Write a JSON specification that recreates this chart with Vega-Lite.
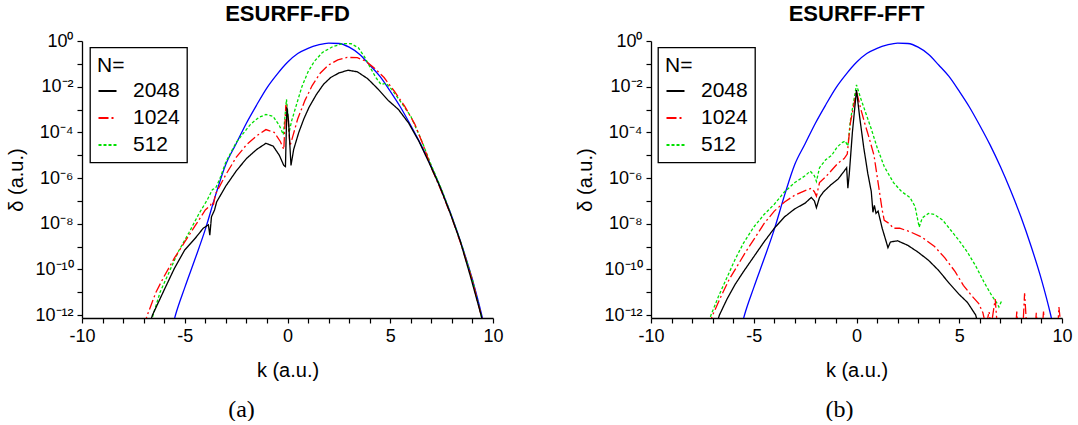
{
  "$schema": "https://vega.github.io/schema/vega-lite/v6.json",
  "padding": {"left": 6, "top": 3, "right": 0, "bottom": 0},
  "bounds": "flush",
  "spacing": 158,
  "config": {
    "font": "Liberation Sans",
    "view": {"stroke": null},
    "axis": {"grid": false, "domainColor": "black", "domainWidth": 1.3, "tickColor": "black", "tickWidth": 1.2, "tickSize": 5, "labelColor": "black", "labelFontSize": 18, "titleColor": "black", "titleFontSize": 20, "titleFontWeight": "normal", "labelFlush": false, "labelOverlap": false, "labelPadding": 4},
    "legend": {"strokeColor": "black", "strokeWidth": 1.3},
    "title": {"fontSize": 22, "fontWeight": "bold", "color": "black", "anchor": "middle", "frame": "group", "baseline": "alphabetic", "offset": 6}
  },
  "datasets": {
    "exact": [{"k":-5.6,"d":3.16e-13},{"k":-5.45,"d":1e-12},{"k":-5.0,"d":1.58e-11},{"k":-4.5,"d":2.82e-10},{"k":-4.0,"d":5.62e-9},{"k":-3.5,"d":1.78e-7},{"k":-3.0,"d":3.98e-6},{"k":-2.5,"d":3.16e-5},{"k":-2.0,"d":2.51e-4},{"k":-1.5,"d":1.58e-3},{"k":-1.0,"d":8.91e-3},{"k":-0.5,"d":3.55e-2},{"k":0,"d":0.117},{"k":0.5,"d":0.282},{"k":1.0,"d":0.479},{"k":1.5,"d":0.676},{"k":2.0,"d":0.813},{"k":2.5,"d":0.776},{"k":3.0,"d":0.537},{"k":3.5,"d":0.263},{"k":4.0,"d":8.91e-2},{"k":4.5,"d":2.82e-2},{"k":5.0,"d":6.31e-3},{"k":5.5,"d":1.26e-3},{"k":6.0,"d":2.0e-4},{"k":6.5,"d":2.82e-5},{"k":7.0,"d":3.16e-6},{"k":7.5,"d":2.82e-7},{"k":8.0,"d":2.0e-8},{"k":8.5,"d":1e-9},{"k":9.0,"d":3.55e-11},{"k":9.45,"d":1e-12},{"k":9.6,"d":2.51e-13}],
    "fd": [
      {"N":"512","k":-6.7,"d":3.16e-13},{"N":"512","k":-6.54,"d":1e-12},{"N":"512","k":-6.2,"d":1e-11},{"N":"512","k":-5.8,"d":6.31e-11},{"N":"512","k":-5.3,"d":6.31e-10},{"N":"512","k":-4.8,"d":3.98e-9},{"N":"512","k":-4.3,"d":2.82e-8},{"N":"512","k":-3.9,"d":1.12e-7},{"N":"512","k":-3.65,"d":3.16e-7},{"N":"512","k":-3.5,"d":3.55e-7},{"N":"512","k":-3.3,"d":8.91e-7},{"N":"512","k":-3.0,"d":5.01e-6},{"N":"512","k":-2.5,"d":3.55e-5},{"N":"512","k":-2.2,"d":7.94e-5},{"N":"512","k":-1.8,"d":2.24e-4},{"N":"512","k":-1.4,"d":4.47e-4},{"N":"512","k":-1.05,"d":6.03e-4},{"N":"512","k":-0.7,"d":5.01e-4},{"N":"512","k":-0.4,"d":2.0e-4},{"N":"512","k":-0.2,"d":7.94e-5},{"N":"512","k":-0.05,"d":2.82e-3},{"N":"512","k":0.02,"d":6.31e-4},{"N":"512","k":0.08,"d":1e-4},{"N":"512","k":0.2,"d":3.16e-4},{"N":"512","k":0.4,"d":1.26e-3},{"N":"512","k":0.7,"d":1e-2},{"N":"512","k":1.0,"d":4.47e-2},{"N":"512","k":1.3,"d":0.126},{"N":"512","k":1.7,"d":0.316},{"N":"512","k":2.2,"d":0.562},{"N":"512","k":2.7,"d":0.776},{"N":"512","k":3.1,"d":0.759},{"N":"512","k":3.45,"d":0.501},{"N":"512","k":3.75,"d":0.2},{"N":"512","k":4.05,"d":6.31e-2},{"N":"512","k":4.3,"d":2.51e-2},{"N":"512","k":4.55,"d":1.26e-2},{"N":"512","k":4.8,"d":1.41e-2},{"N":"512","k":5.1,"d":7.08e-3},{"N":"512","k":5.5,"d":2.24e-3},{"N":"512","k":6.0,"d":5.01e-4},{"N":"512","k":6.5,"d":5.01e-5},{"N":"512","k":7.0,"d":3.55e-6},{"N":"512","k":7.5,"d":3.16e-7},{"N":"512","k":8.0,"d":2.0e-8},{"N":"512","k":8.5,"d":1e-9},{"N":"512","k":9.0,"d":3.55e-11},{"N":"512","k":9.42,"d":1e-12},{"N":"512","k":9.55,"d":3.16e-13},
      {"N":"1024","k":-7.0,"d":3.16e-13},{"N":"1024","k":-6.82,"d":1e-12},{"N":"1024","k":-6.4,"d":1e-11},{"N":"1024","k":-6.0,"d":5.01e-11},{"N":"1024","k":-5.5,"d":3.16e-10},{"N":"1024","k":-5.0,"d":1.58e-9},{"N":"1024","k":-4.5,"d":7.94e-9},{"N":"1024","k":-4.0,"d":3.98e-8},{"N":"1024","k":-3.75,"d":6.31e-8},{"N":"1024","k":-3.68,"d":8.91e-8},{"N":"1024","k":-3.6,"d":7.08e-8},{"N":"1024","k":-3.5,"d":2.0e-7},{"N":"1024","k":-3.0,"d":1.41e-6},{"N":"1024","k":-2.5,"d":7.94e-6},{"N":"1024","k":-2.0,"d":2.82e-5},{"N":"1024","k":-1.5,"d":7.08e-5},{"N":"1024","k":-1.05,"d":1.32e-4},{"N":"1024","k":-0.65,"d":1e-4},{"N":"1024","k":-0.35,"d":3.98e-5},{"N":"1024","k":-0.18,"d":1.78e-5},{"N":"1024","k":-0.08,"d":1.58e-3},{"N":"1024","k":0.02,"d":5.01e-4},{"N":"1024","k":0.12,"d":2.51e-5},{"N":"1024","k":0.25,"d":6.31e-5},{"N":"1024","k":0.5,"d":3.98e-4},{"N":"1024","k":0.85,"d":2.51e-3},{"N":"1024","k":1.2,"d":1.12e-2},{"N":"1024","k":1.6,"d":3.98e-2},{"N":"1024","k":2.0,"d":8.91e-2},{"N":"1024","k":2.45,"d":0.148},{"N":"1024","k":2.9,"d":0.191},{"N":"1024","k":3.4,"d":0.186},{"N":"1024","k":3.8,"d":0.132},{"N":"1024","k":4.25,"d":6.31e-2},{"N":"1024","k":4.7,"d":2.51e-2},{"N":"1024","k":5.2,"d":6.31e-3},{"N":"1024","k":5.7,"d":1.41e-3},{"N":"1024","k":6.2,"d":2.24e-4},{"N":"1024","k":6.6,"d":2.82e-5},{"N":"1024","k":7.0,"d":2.82e-6},{"N":"1024","k":7.5,"d":2.51e-7},{"N":"1024","k":8.0,"d":1.78e-8},{"N":"1024","k":8.5,"d":8.91e-10},{"N":"1024","k":9.0,"d":3.16e-11},{"N":"1024","k":9.42,"d":1e-12},{"N":"1024","k":9.55,"d":3.16e-13},
      {"N":"2048","k":-6.75,"d":3.16e-13},{"N":"2048","k":-6.57,"d":1e-12},{"N":"2048","k":-6.0,"d":1.26e-11},{"N":"2048","k":-5.5,"d":1.12e-10},{"N":"2048","k":-5.0,"d":7.08e-10},{"N":"2048","k":-4.5,"d":2.24e-9},{"N":"2048","k":-4.1,"d":6.31e-9},{"N":"2048","k":-3.85,"d":8.91e-9},{"N":"2048","k":-3.78,"d":3.16e-9},{"N":"2048","k":-3.7,"d":2.0e-8},{"N":"2048","k":-3.55,"d":3.98e-8},{"N":"2048","k":-3.45,"d":8.91e-8},{"N":"2048","k":-3.0,"d":4.47e-7},{"N":"2048","k":-2.5,"d":2.0e-6},{"N":"2048","k":-2.0,"d":7.08e-6},{"N":"2048","k":-1.5,"d":1.78e-5},{"N":"2048","k":-1.05,"d":3.31e-5},{"N":"2048","k":-0.7,"d":2.51e-5},{"N":"2048","k":-0.4,"d":1e-5},{"N":"2048","k":-0.18,"d":3.55e-6},{"N":"2048","k":-0.1,"d":3.16e-6},{"N":"2048","k":-0.03,"d":1.26e-3},{"N":"2048","k":0.05,"d":3.16e-4},{"N":"2048","k":0.17,"d":3.55e-6},{"N":"2048","k":0.3,"d":1.78e-5},{"N":"2048","k":0.55,"d":1e-4},{"N":"2048","k":0.8,"d":3.98e-4},{"N":"2048","k":1.05,"d":1.26e-3},{"N":"2048","k":1.4,"d":4.47e-3},{"N":"2048","k":1.75,"d":1.26e-2},{"N":"2048","k":2.1,"d":2.51e-2},{"N":"2048","k":2.5,"d":3.98e-2},{"N":"2048","k":2.95,"d":5.25e-2},{"N":"2048","k":3.4,"d":4.47e-2},{"N":"2048","k":3.9,"d":2.24e-2},{"N":"2048","k":4.4,"d":7.94e-3},{"N":"2048","k":4.9,"d":2.51e-3},{"N":"2048","k":5.4,"d":1.0e-3},{"N":"2048","k":5.9,"d":2.51e-4},{"N":"2048","k":6.4,"d":3.98e-5},{"N":"2048","k":6.9,"d":4.47e-6},{"N":"2048","k":7.4,"d":4.47e-7},{"N":"2048","k":7.9,"d":3.16e-8},{"N":"2048","k":8.4,"d":1.78e-9},{"N":"2048","k":8.9,"d":5.01e-11},{"N":"2048","k":9.42,"d":1e-12},{"N":"2048","k":9.55,"d":3.16e-13}
    ],
    "fft": [
      {"N":"512","k":-7.25,"d":3.16e-13},{"N":"512","k":-7.08,"d":1e-12},{"N":"512","k":-6.7,"d":7.08e-12},{"N":"512","k":-6.3,"d":4.47e-11},{"N":"512","k":-5.9,"d":2.82e-10},{"N":"512","k":-5.5,"d":1.41e-9},{"N":"512","k":-5.0,"d":7.08e-9},{"N":"512","k":-4.5,"d":2.51e-8},{"N":"512","k":-4.0,"d":7.08e-8},{"N":"512","k":-3.5,"d":2.51e-7},{"N":"512","k":-3.0,"d":6.31e-7},{"N":"512","k":-2.5,"d":1.26e-6},{"N":"512","k":-2.25,"d":2.0e-6},{"N":"512","k":-2.05,"d":1.26e-6},{"N":"512","k":-1.95,"d":7.08e-7},{"N":"512","k":-1.8,"d":2.82e-6},{"N":"512","k":-1.5,"d":6.31e-6},{"N":"512","k":-1.2,"d":1e-5},{"N":"512","k":-0.95,"d":2.24e-5},{"N":"512","k":-0.7,"d":3.55e-5},{"N":"512","k":-0.55,"d":4.17e-5},{"N":"512","k":-0.42,"d":2.51e-5},{"N":"512","k":-0.3,"d":3.16e-4},{"N":"512","k":0,"d":1.2e-2},{"N":"512","k":0.2,"d":3.16e-3},{"N":"512","k":0.45,"d":7.08e-4},{"N":"512","k":0.7,"d":1.58e-4},{"N":"512","k":1.0,"d":2.24e-5},{"N":"512","k":1.35,"d":3.16e-6},{"N":"512","k":1.8,"d":6.31e-7},{"N":"512","k":2.2,"d":2.51e-7},{"N":"512","k":2.6,"d":1.41e-7},{"N":"512","k":2.85,"d":5.62e-8},{"N":"512","k":3.05,"d":7.08e-9},{"N":"512","k":3.2,"d":1.78e-8},{"N":"512","k":3.5,"d":2.82e-8},{"N":"512","k":3.8,"d":2.51e-8},{"N":"512","k":4.2,"d":1.41e-8},{"N":"512","k":4.6,"d":5.01e-9},{"N":"512","k":5.0,"d":1.78e-9},{"N":"512","k":5.4,"d":5.62e-10},{"N":"512","k":5.8,"d":1.41e-10},{"N":"512","k":6.2,"d":2.82e-11},{"N":"512","k":6.55,"d":7.94e-12},{"N":"512","k":6.85,"d":3.16e-12},{"N":"512","k":6.93,"d":2.24e-12},{"N":"512","k":7.08,"d":4.47e-12},
      {"N":"1024","k":-7.2,"d":3.16e-13},{"N":"1024","k":-7.0,"d":1e-12},{"N":"1024","k":-6.6,"d":6.31e-12},{"N":"1024","k":-6.2,"d":3.55e-11},{"N":"1024","k":-5.8,"d":1.41e-10},{"N":"1024","k":-5.4,"d":5.62e-10},{"N":"1024","k":-5.0,"d":2.0e-9},{"N":"1024","k":-4.5,"d":1e-8},{"N":"1024","k":-4.0,"d":3.55e-8},{"N":"1024","k":-3.5,"d":8.91e-8},{"N":"1024","k":-3.0,"d":1.78e-7},{"N":"1024","k":-2.5,"d":2.82e-7},{"N":"1024","k":-2.2,"d":3.55e-7},{"N":"1024","k":-2.05,"d":2.51e-7},{"N":"1024","k":-1.95,"d":1.58e-7},{"N":"1024","k":-1.8,"d":6.31e-7},{"N":"1024","k":-1.5,"d":1.12e-6},{"N":"1024","k":-1.2,"d":2.24e-6},{"N":"1024","k":-0.9,"d":4.47e-6},{"N":"1024","k":-0.6,"d":7.08e-6},{"N":"1024","k":-0.45,"d":1.12e-5},{"N":"1024","k":-0.3,"d":2.51e-4},{"N":"1024","k":0,"d":6.31e-3},{"N":"1024","k":0.2,"d":1.12e-3},{"N":"1024","k":0.4,"d":2.51e-4},{"N":"1024","k":0.6,"d":6.31e-5},{"N":"1024","k":0.85,"d":1e-5},{"N":"1024","k":1.05,"d":6.31e-7},{"N":"1024","k":1.25,"d":3.98e-8},{"N":"1024","k":1.35,"d":1.41e-8},{"N":"1024","k":1.6,"d":1e-8},{"N":"1024","k":1.8,"d":6.31e-9},{"N":"1024","k":2.1,"d":6.31e-9},{"N":"1024","k":2.6,"d":4.47e-9},{"N":"1024","k":3.2,"d":2.51e-9},{"N":"1024","k":3.8,"d":1e-9},{"N":"1024","k":4.3,"d":3.16e-10},{"N":"1024","k":4.8,"d":7.94e-11},{"N":"1024","k":5.2,"d":2.0e-11},{"N":"1024","k":5.6,"d":7.08e-12},{"N":"1024","k":5.95,"d":3.16e-12},{"N":"1024","k":6.15,"d":1.26e-12},{"N":"1024","k":6.3,"d":3.16e-13},{"N":"1024","k":6.45,"d":1.41e-12},{"N":"1024","k":6.55,"d":3.16e-13},{"N":"1024","k":6.75,"d":5.01e-12},{"N":"1024","k":6.85,"d":3.16e-13},{"N":"1024","k":7.75,"d":3.16e-13},{"N":"1024","k":7.8,"d":1.41e-12},{"N":"1024","k":7.85,"d":3.16e-13},{"N":"1024","k":8.1,"d":3.16e-13},{"N":"1024","k":8.18,"d":8.91e-12},{"N":"1024","k":8.28,"d":3.16e-13},{"N":"1024","k":8.7,"d":3.16e-13},{"N":"1024","k":8.75,"d":1.26e-12},{"N":"1024","k":8.8,"d":3.16e-13},{"N":"1024","k":9.05,"d":3.16e-13},{"N":"1024","k":9.1,"d":1.41e-12},{"N":"1024","k":9.15,"d":3.16e-13},{"N":"1024","k":9.8,"d":3.16e-13},{"N":"1024","k":9.85,"d":2.24e-12},{"N":"1024","k":9.95,"d":3.16e-13},
      {"N":"2048","k":-6.85,"d":3.16e-13},{"N":"2048","k":-6.67,"d":1e-12},{"N":"2048","k":-6.3,"d":5.01e-12},{"N":"2048","k":-5.9,"d":2.24e-11},{"N":"2048","k":-5.5,"d":7.94e-11},{"N":"2048","k":-5.0,"d":3.55e-10},{"N":"2048","k":-4.5,"d":1.58e-9},{"N":"2048","k":-4.0,"d":6.31e-9},{"N":"2048","k":-3.5,"d":2.0e-8},{"N":"2048","k":-3.0,"d":4.47e-8},{"N":"2048","k":-2.5,"d":7.94e-8},{"N":"2048","k":-2.2,"d":1.41e-7},{"N":"2048","k":-2.05,"d":1e-7},{"N":"2048","k":-1.95,"d":5.01e-8},{"N":"2048","k":-1.8,"d":1.41e-7},{"N":"2048","k":-1.6,"d":2.51e-7},{"N":"2048","k":-1.25,"d":5.01e-7},{"N":"2048","k":-0.9,"d":8.91e-7},{"N":"2048","k":-0.6,"d":2.0e-6},{"N":"2048","k":-0.48,"d":2.82e-6},{"N":"2048","k":-0.42,"d":3.55e-7},{"N":"2048","k":-0.35,"d":1.58e-6},{"N":"2048","k":-0.2,"d":1e-4},{"N":"2048","k":0,"d":7.08e-3},{"N":"2048","k":0.15,"d":5.01e-4},{"N":"2048","k":0.35,"d":2.24e-5},{"N":"2048","k":0.55,"d":1.58e-6},{"N":"2048","k":0.72,"d":2.51e-7},{"N":"2048","k":0.8,"d":3.16e-8},{"N":"2048","k":0.87,"d":6.31e-8},{"N":"2048","k":0.95,"d":2.82e-8},{"N":"2048","k":1.05,"d":3.55e-8},{"N":"2048","k":1.25,"d":6.31e-9},{"N":"2048","k":1.45,"d":1.58e-9},{"N":"2048","k":1.53,"d":8.91e-10},{"N":"2048","k":1.65,"d":1.58e-9},{"N":"2048","k":2.0,"d":1.78e-9},{"N":"2048","k":2.5,"d":1.12e-9},{"N":"2048","k":3.0,"d":5.62e-10},{"N":"2048","k":3.5,"d":2.51e-10},{"N":"2048","k":4.0,"d":8.91e-11},{"N":"2048","k":4.5,"d":2.51e-11},{"N":"2048","k":5.0,"d":7.94e-12},{"N":"2048","k":5.4,"d":3.55e-12},{"N":"2048","k":5.8,"d":1e-12},{"N":"2048","k":5.95,"d":3.16e-13}
    ]
  },
  "hconcat": [
    {
      "width": 411, "height": 277,
      "title": {"text": "ESURFF-FD"},
      "layer": [
        {
          "data": {"name": "exact"},
          "mark": {"type": "line", "color": "#0000ff", "strokeWidth": 1.3, "clip": true, "interpolate": "monotone"},
          "encoding": {
            "x": {"field": "k", "type": "quantitative", "scale": {"domain": [-10, 10], "nice": false},
              "axis": {"values": [-10,-9,-8,-7,-6,-5,-4,-3,-2,-1,0,1,2,3,4,5,6,7,8,9,10], "labelExpr": "datum.value % 5 === 0 ? '' + datum.value : ''", "title": "k (a.u.)", "titleY": 52, "titleBaseline": "middle"}},
            "y": {"field": "d", "type": "quantitative", "scale": {"type": "log", "domain": [7.4e-13, 1], "nice": false},
              "axis": {"values": [1e-12,1e-11,1e-10,1e-9,1e-8,1e-7,1e-6,1e-5,1e-4,1e-3,1e-2,1e-1,1], "labelExpr": "['10⁻¹²','','10⁻¹⁰','','10⁻⁸','','10⁻⁶','','10⁻⁴','','10⁻²','','10⁰'][round(log(datum.value)/LN10)+12]", "title": "δ (a.u.)", "titleX": -65.5, "titleBaseline": "middle"}}
          }
        },
        {
          "data": {"name": "fd"},
          "mark": {"type": "line", "strokeWidth": 1.3, "clip": true},
          "encoding": {
            "x": {"field": "k", "type": "quantitative",
              "axis": {"orient": "bottom", "domain": false, "ticks": false, "labels": false, "title": "(a)", "titleFont": "Liberation Serif", "titleFontSize": 24, "titleX": 159, "titleY": 91, "titleBaseline": "middle"}},
            "y": {"field": "d", "type": "quantitative"},
            "color": {"field": "N", "type": "nominal", "title": "N=", "scale": {"domain": ["2048","1024","512"], "range": ["#000000","#ff0000","#00e000"]},
              "legend": {"orient": "none", "legendX": 8, "legendY": 6.5, "titleFontSize": 21, "titleFontWeight": "normal", "titleColor": "black", "labelFontSize": 21, "labelColor": "black", "symbolType": "stroke", "symbolSize": 324, "symbolStrokeWidth": 2, "labelOffset": 15, "padding": 7, "rowPadding": 5, "titlePadding": 5}},
            "strokeDash": {"field": "N", "type": "nominal", "title": "N=", "scale": {"domain": ["2048","1024","512"], "range": [[1,0],[10,3,2,3],[3,2]]},
              "legend": {"orient": "none", "legendX": 8, "legendY": 6.5, "titleFontSize": 21, "titleFontWeight": "normal", "titleColor": "black", "labelFontSize": 21, "labelColor": "black", "symbolType": "stroke", "symbolSize": 324, "symbolStrokeWidth": 2, "labelOffset": 15, "padding": 7, "rowPadding": 5, "titlePadding": 5}}
          }
        }
      ],
      "resolve": {"axis": {"x": "independent"}}
    },
    {
      "width": 411, "height": 277,
      "title": {"text": "ESURFF-FFT"},
      "layer": [
        {
          "data": {"name": "exact"},
          "mark": {"type": "line", "color": "#0000ff", "strokeWidth": 1.3, "clip": true, "interpolate": "monotone"},
          "encoding": {
            "x": {"field": "k", "type": "quantitative", "scale": {"domain": [-10, 10], "nice": false},
              "axis": {"values": [-10,-9,-8,-7,-6,-5,-4,-3,-2,-1,0,1,2,3,4,5,6,7,8,9,10], "labelExpr": "datum.value % 5 === 0 ? '' + datum.value : ''", "title": "k (a.u.)", "titleY": 52, "titleBaseline": "middle"}},
            "y": {"field": "d", "type": "quantitative", "scale": {"type": "log", "domain": [7.4e-13, 1], "nice": false},
              "axis": {"values": [1e-12,1e-11,1e-10,1e-9,1e-8,1e-7,1e-6,1e-5,1e-4,1e-3,1e-2,1e-1,1], "labelExpr": "['10⁻¹²','','10⁻¹⁰','','10⁻⁸','','10⁻⁶','','10⁻⁴','','10⁻²','','10⁰'][round(log(datum.value)/LN10)+12]", "title": "δ (a.u.)", "titleX": -65.5, "titleBaseline": "middle"}}
          }
        },
        {
          "data": {"name": "fft"},
          "mark": {"type": "line", "strokeWidth": 1.3, "clip": true},
          "encoding": {
            "x": {"field": "k", "type": "quantitative",
              "axis": {"orient": "bottom", "domain": false, "ticks": false, "labels": false, "title": "(b)", "titleFont": "Liberation Serif", "titleFontSize": 24, "titleX": 188, "titleY": 91, "titleBaseline": "middle"}},
            "y": {"field": "d", "type": "quantitative"},
            "color": {"field": "N", "type": "nominal", "title": "N=", "scale": {"domain": ["2048","1024","512"], "range": ["#000000","#ff0000","#00e000"]},
              "legend": {"orient": "none", "legendX": 7, "legendY": 6.5, "titleFontSize": 21, "titleFontWeight": "normal", "titleColor": "black", "labelFontSize": 21, "labelColor": "black", "symbolType": "stroke", "symbolSize": 324, "symbolStrokeWidth": 2, "labelOffset": 15, "padding": 7, "rowPadding": 5, "titlePadding": 5}},
            "strokeDash": {"field": "N", "type": "nominal", "title": "N=", "scale": {"domain": ["2048","1024","512"], "range": [[1,0],[10,3,2,3],[3,2]]},
              "legend": {"orient": "none", "legendX": 7, "legendY": 6.5, "titleFontSize": 21, "titleFontWeight": "normal", "titleColor": "black", "labelFontSize": 21, "labelColor": "black", "symbolType": "stroke", "symbolSize": 324, "symbolStrokeWidth": 2, "labelOffset": 15, "padding": 7, "rowPadding": 5, "titlePadding": 5}}
          }
        }
      ],
      "resolve": {"axis": {"x": "independent"}}
    }
  ],
  "resolve": {"scale": {"color": "independent", "strokeDash": "independent"}, "legend": {"color": "independent", "strokeDash": "independent"}}
}
